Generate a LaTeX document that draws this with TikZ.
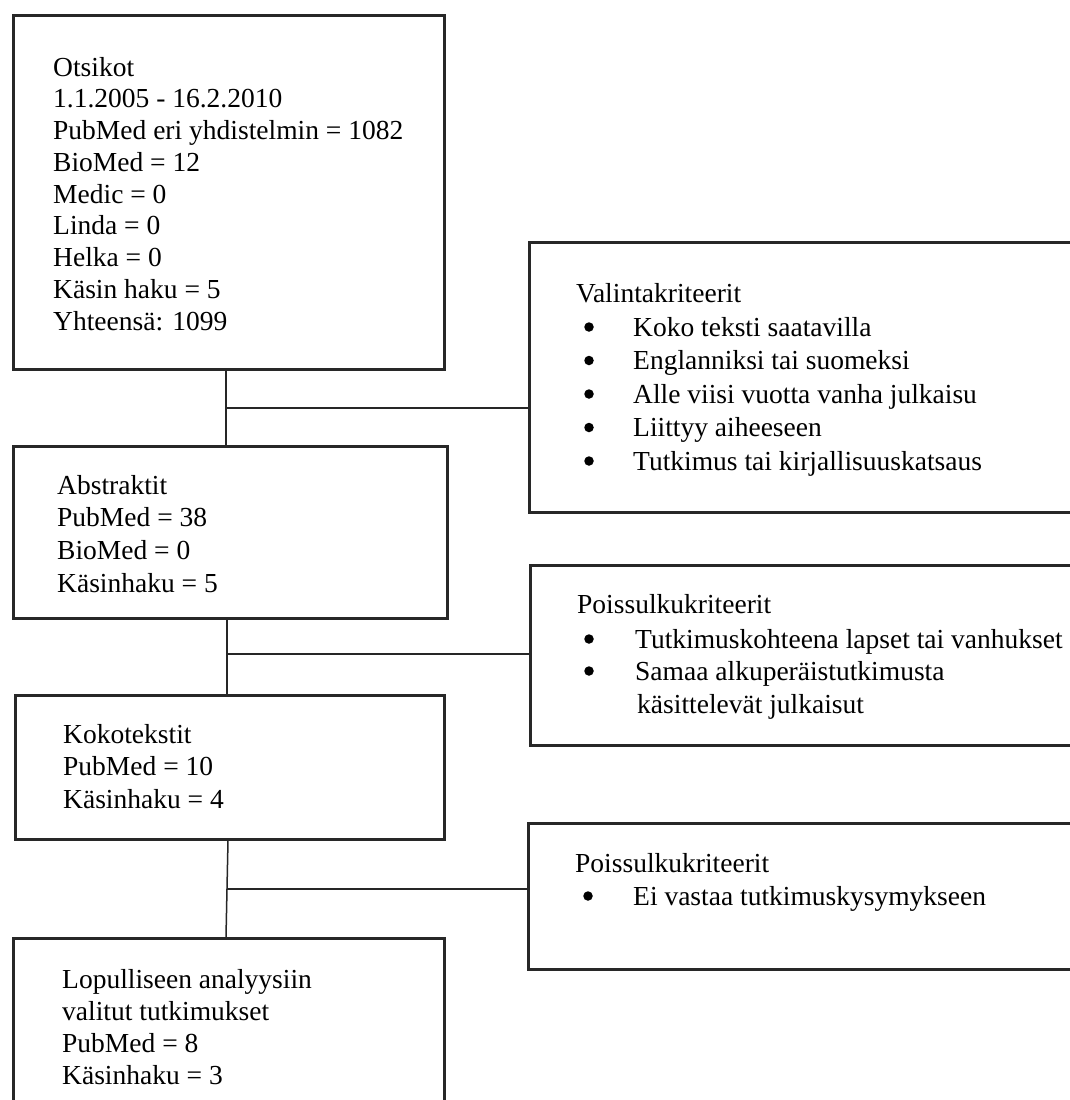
\documentclass[tikz,border=0pt]{standalone}
\usepackage{fontspec}
\setmainfont{Liberation Serif}
\definecolor{boxc}{RGB}{40,40,40}
\begin{document}
\begin{tikzpicture}[x=1pt,y=-1pt,
  box/.style={draw=boxc,line width=2.6pt,inner sep=0pt,anchor=north west},
  conn/.style={draw=black!85,line width=1.5pt},
  txt/.style={anchor=base west,inner sep=0pt,font=\fontsize{27.5}{32}\selectfont},
  bul/.style={circle,fill=black,inner sep=0pt,minimum size=9.5pt}]
\useasboundingbox (0,0) rectangle (1070,1100);
\fill[white] (0,0) rectangle (1070,1100);
\begin{scope}
\clip (0,0) rectangle (1070,1100);
% left column boxes
\node[box,minimum width=431pt,minimum height=354pt] (b1) at (12,14) {};
\node[box,minimum width=434pt,minimum height=172pt] (b2) at (12,445) {};
\node[box,minimum width=429pt,minimum height=144pt] (b3) at (14,694) {};
\node[box,minimum width=431pt,minimum height=220pt] (b5) at (12,937) {};
% right column boxes
\node[box,minimum width=560pt,minimum height=270pt] (r1) at (528,241) {};
\node[box,minimum width=560pt,minimum height=180pt] (r2) at (529,564) {};
\node[box,minimum width=560pt,minimum height=146pt] (r3) at (527,822) {};
% connectors
\coordinate (j1) at (226,408);
\coordinate (j2) at (227,654);
\coordinate (j3) at (227,889);
\coordinate (t3) at (228,838);
\coordinate (s3) at (226,937);
\draw[conn] (b1.south -| j1) -- (b2.north -| j1);
\draw[conn] (j1) -- (j1 -| r1.west);
\draw[conn] (b2.south -| j2) -- (b3.north -| j2);
\draw[conn] (j2) -- (j2 -| r2.west);
\draw[conn] (b3.south -| t3) -- (b5.north -| s3);
\draw[conn] (j3) -- (j3 -| r3.west);
\end{scope}
% texts of left boxes
\foreach \t [count=\i] in {Otsikot,1.1.2005 - 16.2.2010,PubMed eri yhdistelmin = 1082,BioMed = 12,Medic = 0,Linda = 0,Helka = 0,Käsin haku = 5,Yhteensä: 1099}
  \node[txt] (b1t\i) at (53,{76+31.75*(\i-1)}) {\t};
\foreach \t [count=\i] in {Abstraktit,PubMed = 38,BioMed = 0,Käsinhaku = 5}
  \node[txt] (b2t\i) at (57,{494+32.7*(\i-1)}) {\t};
\foreach \t [count=\i] in {Kokotekstit,PubMed = 10,Käsinhaku = 4}
  \node[txt] (b3t\i) at (63,{743+32.5*(\i-1)}) {\t};
\foreach \t [count=\i] in {Lopulliseen analyysiin,valitut tutkimukset,PubMed = 8,Käsinhaku = 3}
  \node[txt] (b5t\i) at (62,{988+32.3*(\i-1)}) {\t};
% texts of right boxes
\node[txt] (r1t) at (576,302) {Valintakriteerit};
\foreach \t [count=\i] in {Koko teksti saatavilla,Englanniksi tai suomeksi,Alle viisi vuotta vanha julkaisu,Liittyy aiheeseen,Tutkimus tai kirjallisuuskatsaus}{
  \node[bul] (r1b\i) at (589,{327+33.5*(\i-1)}) {};
  \node[txt] (r1l\i) at (633,{336+33.5*(\i-1)}) {\t};
}
\node[txt] (r2t) at (577,613) {Poissulkukriteerit};
\node[bul] (r2b1) at (589,639) {};
\node[txt] (r2l1) at (635,648) {Tutkimuskohteena lapset tai vanhukset};
\node[bul] (r2b2) at (589,671) {};
\node[txt] (r2l2) at (635,680) {Samaa alkuperäistutkimusta};
\node[txt] (r2l3) at (637,713) {käsittelevät julkaisut};
\node[txt] (r3t) at (575,872) {Poissulkukriteerit};
\node[bul] (r3b1) at (588,896) {};
\node[txt] (r3l1) at (633,905) {Ei vastaa tutkimuskysymykseen};
\end{tikzpicture}
\end{document}
